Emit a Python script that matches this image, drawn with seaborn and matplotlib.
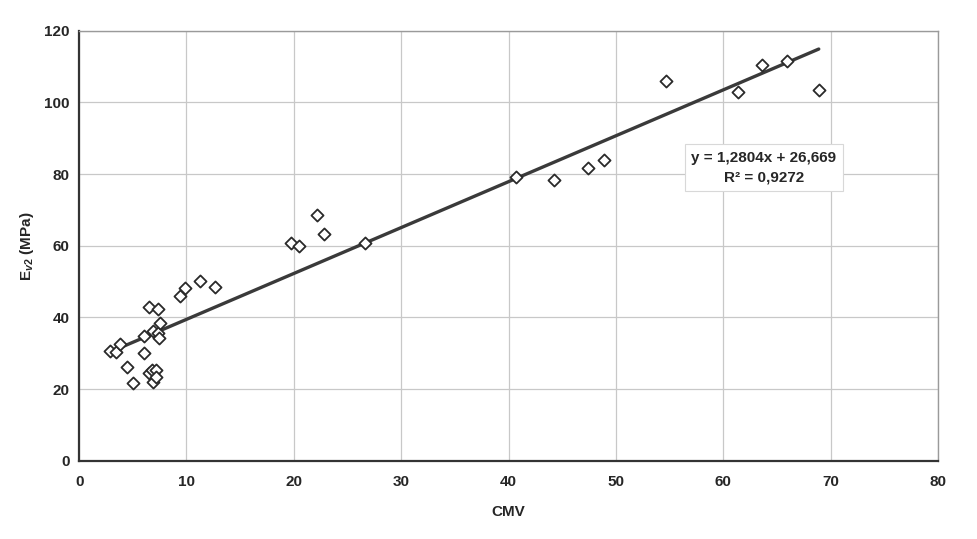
import numpy as np
import pandas as pd
import matplotlib
matplotlib.use("Agg")
import matplotlib.pyplot as plt
import seaborn as sns

# Data
cmv = [2.9, 3.4, 3.8, 4.5, 5.0, 6.0, 6.0, 6.5, 6.5, 6.8, 6.9, 6.9, 7.2, 7.2,
       7.3, 7.3, 7.4, 7.5, 9.4, 9.9, 11.3, 12.7, 19.7, 20.5, 22.2, 22.8, 26.6,
       40.7, 44.2, 47.4, 48.9, 54.7, 61.4, 63.6, 65.9, 68.9]
ev2 = [30.6, 30.4, 32.5, 26.2, 21.6, 34.7, 30.2, 42.8, 24.5, 25.4, 36.2, 21.9,
       25.4, 23.4, 42.3, 35.6, 34.2, 38.4, 46.1, 48.3, 50.3, 48.5, 60.9, 60.0,
       68.5, 63.4, 60.9, 79.2, 78.3, 81.7, 84.0, 106.1, 102.9, 110.5, 111.6,
       103.5]

# Trendline as printed on the chart
slope = 1.2804
intercept = 26.669
r2 = 0.9272

x_ticks = [0, 10, 20, 30, 40, 50, 60, 70, 80]
y_ticks = [0, 20, 40, 60, 80, 100, 120]

sns.set_theme(style="whitegrid")
plt.rcParams['font.family'] = ['Liberation Sans', 'DejaVu Sans']
plt.rcParams['mathtext.fontset'] = 'custom'
plt.rcParams['mathtext.rm'] = 'Liberation Sans:bold'
plt.rcParams['mathtext.it'] = 'Liberation Sans:bold:italic'
plt.rcParams['mathtext.bf'] = 'Liberation Sans:bold'

df = pd.DataFrame({"CMV": cmv, "Ev2": ev2})
fit = pd.DataFrame({"x": [min(cmv), max(cmv)]})
fit["y"] = slope * fit["x"] + intercept

fig = plt.figure(figsize=(9.77, 5.39), dpi=100)
ax = fig.add_axes([0.081, 0.145, 0.879, 0.798])

sns.lineplot(data=fit, x="x", y="y", ax=ax, color="#3a3a3a", linewidth=2.4, zorder=2)
sns.scatterplot(data=df, x="CMV", y="Ev2", ax=ax, marker="D", s=38,
                facecolor="white", edgecolor="#2a2a2a", linewidth=1.3, zorder=3)

ax.set_xlim(0, 80)
ax.set_ylim(0, 120)
ax.set_xticks(x_ticks)
ax.set_yticks(y_ticks)
ax.grid(True, color="#c8c8c8", linewidth=0.9)
ax.set_facecolor("white")

for side in ["left", "bottom"]:
    ax.spines[side].set_color("#333333")
    ax.spines[side].set_linewidth(1.6)
for side in ["top", "right"]:
    ax.spines[side].set_color("#9a9a9a")
    ax.spines[side].set_linewidth(1.0)

ax.tick_params(axis="both", labelsize=11, length=3, color="#555555", pad=4)
for lab in ax.get_xticklabels() + ax.get_yticklabels():
    lab.set_fontweight("bold")
ax.tick_params(axis="x", pad=7)

ax.set_xlabel("CMV", fontsize=11, fontweight="bold", labelpad=12)
ax.set_ylabel(r"E$_{v2}$ (MPa)", fontsize=11, fontweight="bold", labelpad=6)

ax.text(63.8, 81.8, f"y = 1,2804x + 26,669\nR² = 0,9272",
        ha="center", va="center", fontsize=11, fontweight="bold",
        linespacing=1.45, zorder=4,
        bbox=dict(boxstyle="square,pad=0.45", facecolor="white",
                  edgecolor="#d8d8d8", linewidth=0.8))

fig.savefig("out.png", dpi=100)
